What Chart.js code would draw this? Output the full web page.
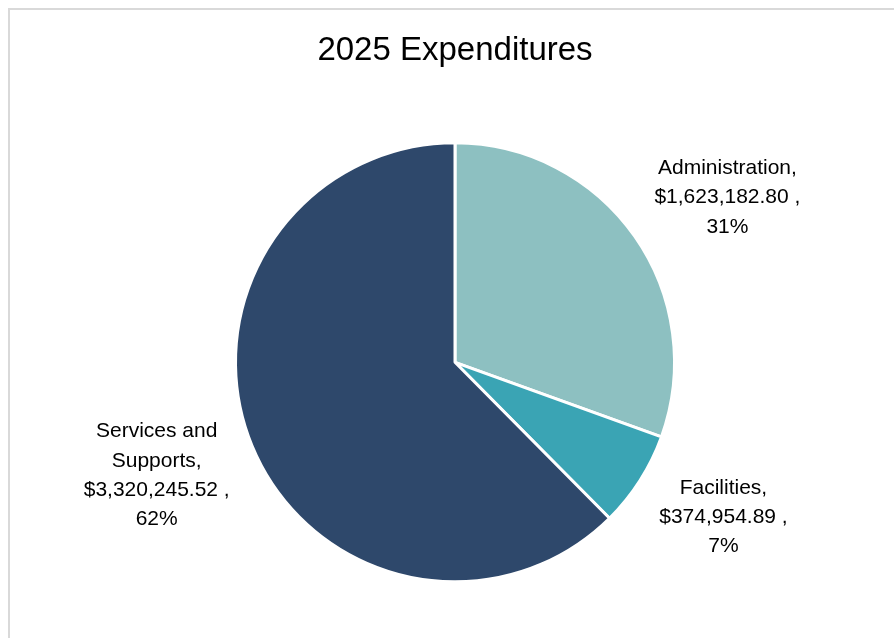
<!DOCTYPE html>
<html>
<head>
<meta charset="utf-8">
<title>2025 Expenditures</title>
<script src="https://cdn.jsdelivr.net/npm/chart.js@4"></script>
<style>
    html, body { margin: 0; padding: 0; background: #fff; }
    #marco {
        position: absolute;
        left: 8px; top: 8px; right: 0; bottom: 0;
        border-left: 2px solid #d9d9d9;
        border-top: 2px solid #d9d9d9;
    }
    #graficoGastos { display: block; }
</style>
</head>
<body>
<div id="marco">
    <canvas id="graficoGastos" width="884" height="628"></canvas>
</div>
<script>
// Gastos 2025 por categoría
const categorias = ['Administration', 'Facilities', 'Services and Supports'];
const montos = [1623182.80, 374954.89, 3320245.52];
const colores = ['#8dc0c1', '#3aa4b4', '#2e486b'];

// Etiquetas partidas en líneas como en el informe
const lineasCategoria = [['Administration,'], ['Facilities,'], ['Services and', 'Supports,']];

const fuente = '"Liberation Sans", Arial, sans-serif';

function formatoMoneda(v) {
    return '$' + v.toLocaleString('en-US', { minimumFractionDigits: 2, maximumFractionDigits: 2 }) + ' ,';
}

// Plugin sencillo para dibujar las etiquetas fuera de cada porción
const etiquetasPorcion = {
    id: 'etiquetasPorcion',
    afterDatasetsDraw(chart, args, opts) {
        const ctx = chart.ctx;
        const meta = chart.getDatasetMeta(0);
        const datos = chart.data.datasets[0].data;
        const total = datos.reduce((a, b) => a + b, 0);
        ctx.save();
        ctx.font = '21px ' + fuente;
        ctx.fillStyle = '#000';
        ctx.textAlign = 'center';
        ctx.textBaseline = 'middle';
        meta.data.forEach((arco, i) => {
            const r = arco.outerRadius;
            const desp = opts.desplazamientos[i];
            const cx = arco.x + desp[0] * r;
            const cy = arco.y + desp[1] * r;
            const lineas = lineasCategoria[i].concat([
                formatoMoneda(datos[i]),
                Math.round(datos[i] / total * 100) + '%'
            ]);
            const alto = 29.3;
            const y0 = cy - (lineas.length - 1) * alto / 2;
            lineas.forEach((t, k) => ctx.fillText(t, cx, y0 + k * alto));
        });
        ctx.restore();
    }
};

const ctx = document.getElementById('graficoGastos').getContext('2d');
new Chart(ctx, {
    type: 'pie',
    data: {
        labels: categorias,
        datasets: [{
            data: montos,
            backgroundColor: colores,
            borderColor: '#ffffff',
            borderWidth: 3,
            radius: 219.5
        }]
    },
    options: {
        responsive: false,
        animation: false,
        layout: {
            padding: { left: 6, right: 0, top: 0, bottom: 0 }
        },
        plugins: {
            legend: { display: false },
            tooltip: { enabled: false },
            title: {
                display: true,
                text: '2025 Expenditures',
                color: '#000',
                font: { family: fuente, size: 33, weight: 'normal' },
                padding: { top: 21, bottom: 16 }
            },
            etiquetasPorcion: {
                desplazamientos: [[1.241, -0.75], [1.223, 0.705], [-1.359, 0.516]]
            }
        }
    },
    plugins: [etiquetasPorcion]
});
</script>
</body>
</html>
